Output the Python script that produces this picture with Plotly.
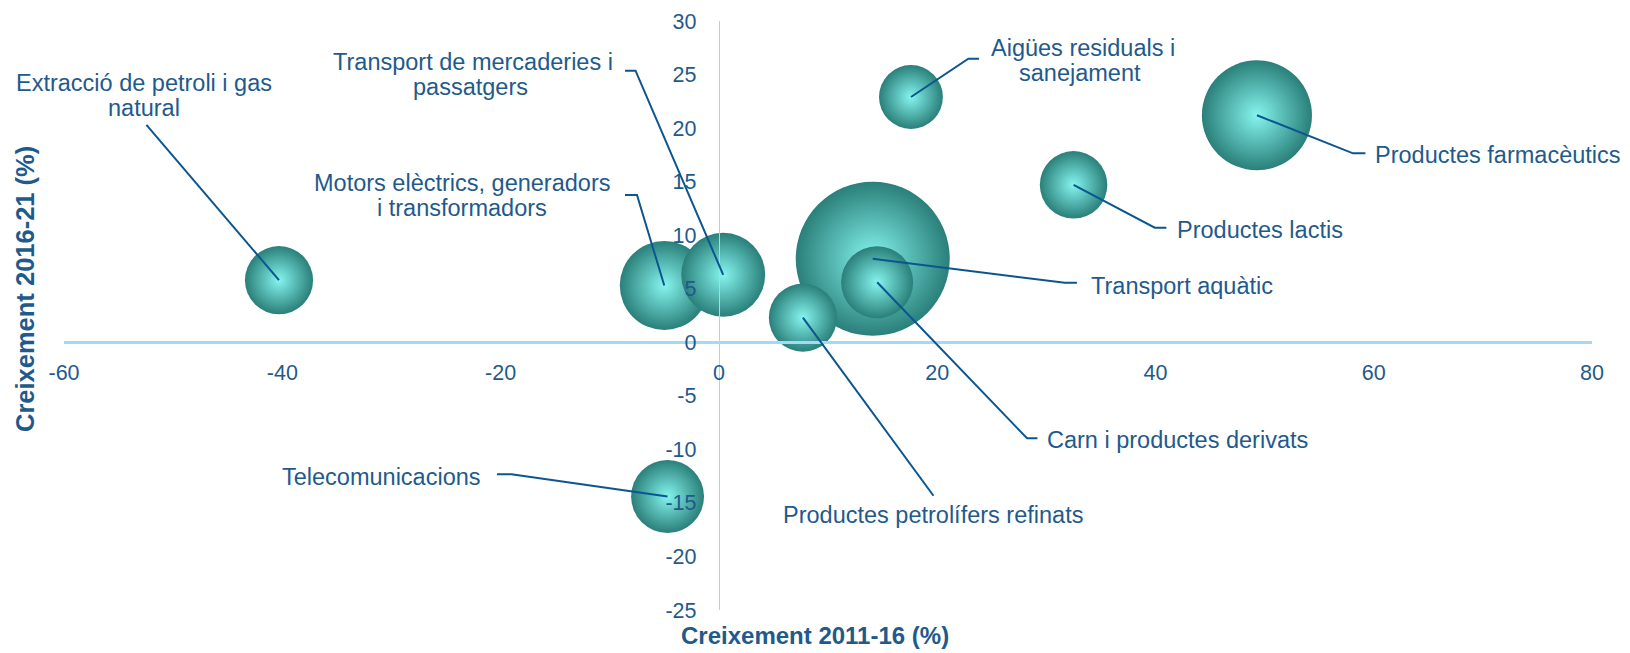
import plotly.graph_objects as go

# ---- data ----
sectors = [
    "Transport aquàtic",
    "Productes farmacèutics",
    "Motors elèctrics, generadors i transformadors",
    "Transport de mercaderies i passatgers",
    "Telecomunicacions",
    "Carn i productes derivats",
    "Extracció de petroli i gas natural",
    "Productes petrolífers refinats",
    "Productes lactis",
    "Aigües residuals i sanejament",
]
growth_2011_16 = [14.1, 49.3, -5.0, 0.4, -4.7, 14.5, -40.3, 7.7, 32.5, 17.6]
growth_2016_21 = [7.8, 21.2, 5.3, 6.3, -14.4, 5.6, 5.8, 2.3, 14.7, 22.9]
weight = [59.3, 30.3, 19.8, 17.6, 13.3, 13.0, 11.6, 11.6, 11.4, 10.2]

x_ticks = [-60, -40, -20, 0, 20, 40, 60, 80]
y_ticks = [30, 25, 20, 15, 10, 5, 0, -5, -10, -15, -20, -25]

# ---- label layout (pixel offsets from bubble centre; y up) ----
label_layout = {
    "Extracció de petroli i gas natural": (
        [("Extracció de petroli i gas", -134.7, 197.5, "center"),
         ("natural", -135.2, 171.9, "center")],
        [(-132.6, 155.2)]),
    "Motors elèctrics, generadors i transformadors": (
        [("Motors elèctrics, generadors", -201.9, 102.8, "center"),
         ("i transformadors", -202.0, 77.2, "center")],
        [(-27.3, 90.5), (-39.3, 90.5)]),
    "Transport de mercaderies i passatgers": (
        [("Transport de mercaderies i", -250.4, 213.1, "center"),
         ("passatgers", -253.2, 187.5, "center")],
        [(-87.7, 204.1), (-98.2, 204.1)]),
    "Transport aquàtic": (
        [("Transport aquàtic", 215.8, -27.3, "left")],
        [(192.0, -24.0), (204.2, -24.0)]),
    "Carn i productes derivats": (
        [("Carn i productes derivats", 167.6, -157.7, "left")],
        [(149.9, -156.0), (160.3, -156.0)]),
    "Productes petrolífers refinats": (
        [("Productes petrolífers refinats", 130.1, -197.4, "center")],
        [(130.6, -178.1)]),
    "Aigües residuals i sanejament": (
        [("Aigües residuals i", 171.6, 48.7, "center"),
         ("sanejament", 169.1, 23.7, "center")],
        [(57.4, 38.3), (68.1, 38.3)]),
    "Productes farmacèutics": (
        [("Productes farmacèutics", 116.4, -39.8, "left")],
        [(96.1, -38.1), (108.5, -38.1)]),
    "Productes lactis": (
        [("Productes lactis", 101.3, -45.2, "left")],
        [(81.2, -42.9), (92.8, -42.9)]),
    "Telecomunicacions": (
        [("Telecomunicacions", -184.1, 19.8, "right")],
        [(-156.1, 22.2), (-170.6, 22.2)]),
}

TEXT = "#1f5a8c"
LEADER = "#0b5590"
AXIS = "#a3d9f5"
FONT = "Liberation Sans, Arial, sans-serif"
MAX_D = 154
PAGE_PAD = 8  # default page body margin

fig = go.Figure()
fig.add_trace(go.Scatter(
    x=growth_2011_16, y=growth_2016_21, mode="markers",
    marker=dict(
        size=weight, sizemode="area",
        sizeref=2.0 * max(weight) / MAX_D ** 2,
        color="#2a7f79",
        gradient=dict(type="radial", color="#86f4ee"),
        line=dict(width=0),
        opacity=1,
    ),
    hoverinfo="skip", showlegend=False,
))

annotations = []
shapes = []
for name, xv, yv in zip(sectors, growth_2011_16, growth_2016_21):
    lines, pts = label_layout[name]
    for txt, dx, dy, xa in lines:
        annotations.append(dict(
            x=xv, y=yv, xref="x", yref="y", text=txt, showarrow=False,
            xshift=dx, yshift=dy, xanchor=xa, yanchor="middle",
            font=dict(family=FONT, size=23.5, color=TEXT),
        ))
    path = "M0,0" + "".join(f" L{px},{py}" for px, py in pts)
    shapes.append(dict(
        type="path", path=path, xref="x", yref="y",
        xsizemode="pixel", ysizemode="pixel", xanchor=xv, yanchor=yv,
        line=dict(color=LEADER, width=2), layer="above",
    ))

annotations.append(dict(
    x=0.4912, y=-0.044, xref="paper", yref="paper",
    text="<b>Creixement 2011-16 (%)</b>", showarrow=False,
    xanchor="center", yanchor="middle",
    font=dict(family=FONT, size=24, color=TEXT),
))
annotations.append(dict(
    x=-0.0255, y=0.545, xref="paper", yref="paper",
    text="<b>Creixement 2016-21 (%)</b>", showarrow=False, textangle=-90,
    xanchor="center", yanchor="middle",
    font=dict(family=FONT, size=25.5, color=TEXT),
))

x_range = [-60, 80]
y_range = [-25, 30]
fig.update_layout(
    width=1630 - PAGE_PAD, height=653 - PAGE_PAD,
    margin=dict(l=64 - PAGE_PAD, r=38, t=21 - PAGE_PAD, b=43, autoexpand=False),
    paper_bgcolor="white", plot_bgcolor="white",
    xaxis=dict(
        range=x_range, tickvals=x_ticks, ticktext=[str(v) for v in x_ticks],
        anchor="free", position=(0 - y_range[0]) / (y_range[1] - y_range[0]),
        showline=True, linecolor=AXIS, linewidth=2.5,
        showgrid=False, zeroline=False, ticks="", automargin=False,
        ticklabelstandoff=10,
        tickfont=dict(family=FONT, size=21.5, color=TEXT),
    ),
    yaxis=dict(
        range=y_range, tickvals=y_ticks, ticktext=[str(v) for v in y_ticks],
        anchor="free", position=(0 - x_range[0]) / (x_range[1] - x_range[0]),
        showline=True, linecolor=AXIS, linewidth=1.2,
        showgrid=False, zeroline=False, ticks="", automargin=False,
        ticklabelstandoff=18,
        tickfont=dict(family=FONT, size=21.5, color=TEXT),
    ),
    annotations=annotations, shapes=shapes,
    hovermode=False,
)

fig.write_html("out.html")
